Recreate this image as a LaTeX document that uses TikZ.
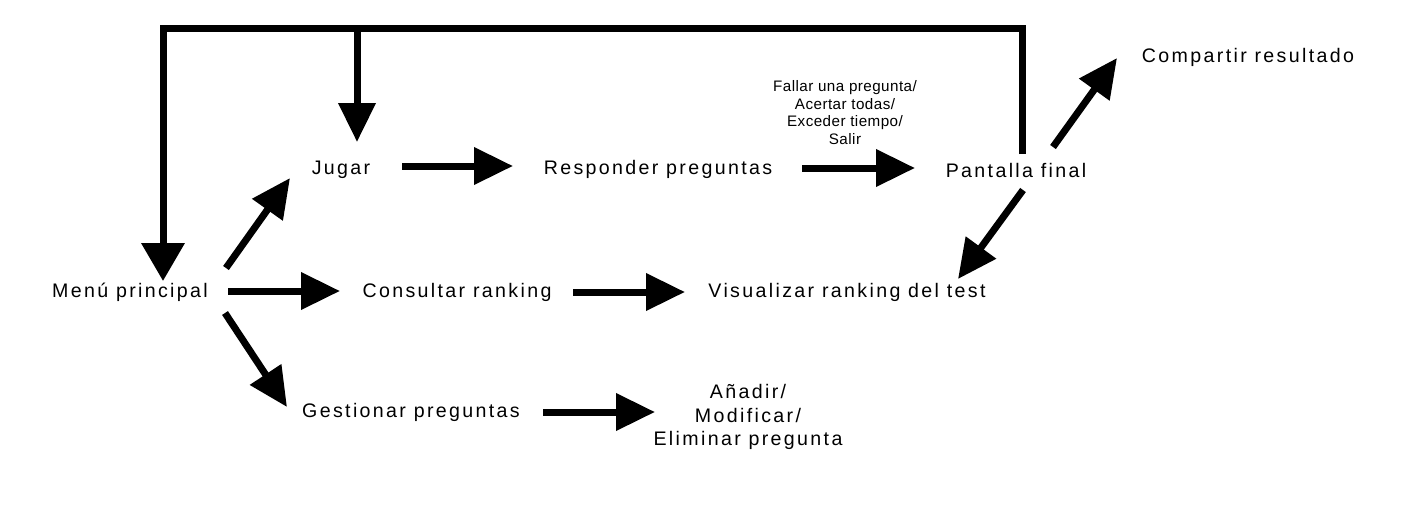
\documentclass[tikz,border=0pt]{standalone}
\usepackage{fontspec}
\setmainfont{Liberation Sans}[LetterSpace=12]
\newfontfamily\etiquetafont{Liberation Sans}[LetterSpace=3]
\usetikzlibrary{arrows.meta}

\begin{document}
\begin{tikzpicture}
  [
    x = 0.5pt, y = -0.5pt,
    estado/.style = {inner sep = 0pt, anchor = base, font = \fontsize{9.8}{11.75}\selectfont},
    etiqueta/.style = {inner sep = 0pt, anchor = south, align = center, font = \etiquetafont\fontsize{7.6}{8.85}\selectfont},
    flecha/.style = {line width = 3.5pt, -{Triangle[length=19.5pt,width=18pt]}},
  ]

  \useasboundingbox (0,0) rectangle (1417,510);

  \node[estado] (menu) at (130,297) {Menú principal};
  \node[estado] (jugar) at (341,174) {Jugar};
  \node[estado] (responder) at (658,174) {Responder preguntas};
  \node[estado] (pantalla) at (1016,177) {Pantalla final};
  \node[estado] (compartir) at (1248,62) {Compartir resultado};
  \node[estado] (consultar) at (457,297) {Consultar ranking};
  \node[estado] (visualizar) at (847,297) {Visualizar ranking del test};
  \node[estado] (gestionar) at (411,417) {Gestionar preguntas};
  \node[estado, anchor=north, align=center] (editar) at (748,384) {Añadir/\\Modificar/\\Eliminar pregunta};

  \node[etiqueta] (condiciones) at (845,145) {Fallar una pregunta/\\Acertar todas/\\Exceder tiempo/\\Salir};

  \coordinate (retorno) at (163,28);
  \coordinate (rama) at (357,28);

  % vuelta al menu desde la pantalla final
  \draw[flecha, -{Triangle[length=19pt,width=21pt]}] ([shift={(6,-23)}]pantalla.base) |- (retorno) -- ([shift={(33,-16)}]menu.base);
  \draw[flecha] (rama) -- ([shift={(16,-32)}]jugar.base);

  \draw[flecha] ([shift={(96,-29)}]menu.base) -- ([shift={(-51,4)}]jugar.base);
  \draw[flecha] ([shift={(98,-6)}]menu.base) -- ([shift={(-117,-6)}]consultar.base);
  \draw[flecha] ([shift={(95,16)}]menu.base) -- ([shift={(-124,-10)}]gestionar.base);

  \draw[flecha] ([shift={(61,-8)}]jugar.base) -- ([shift={(-145,-8)}]responder.base);
  \draw[flecha] ([shift={(144,-6)}]responder.base) -- ([shift={(-101,-9)}]pantalla.base);
  \draw[flecha] ([shift={(37,-30)}]pantalla.base) -- ([shift={(-131,-4)}]compartir.base);
  \draw[flecha] ([shift={(7,13)}]pantalla.base) -- ([shift={(111,-18)}]visualizar.base);

  \draw[flecha] ([shift={(116,-5)}]consultar.base) -- ([shift={(-162,-5)}]visualizar.base);
  \draw[flecha] ([shift={(132,-5)}]gestionar.base) -- ([shift={(-93,28)}]editar.north);

\end{tikzpicture}
\end{document}
